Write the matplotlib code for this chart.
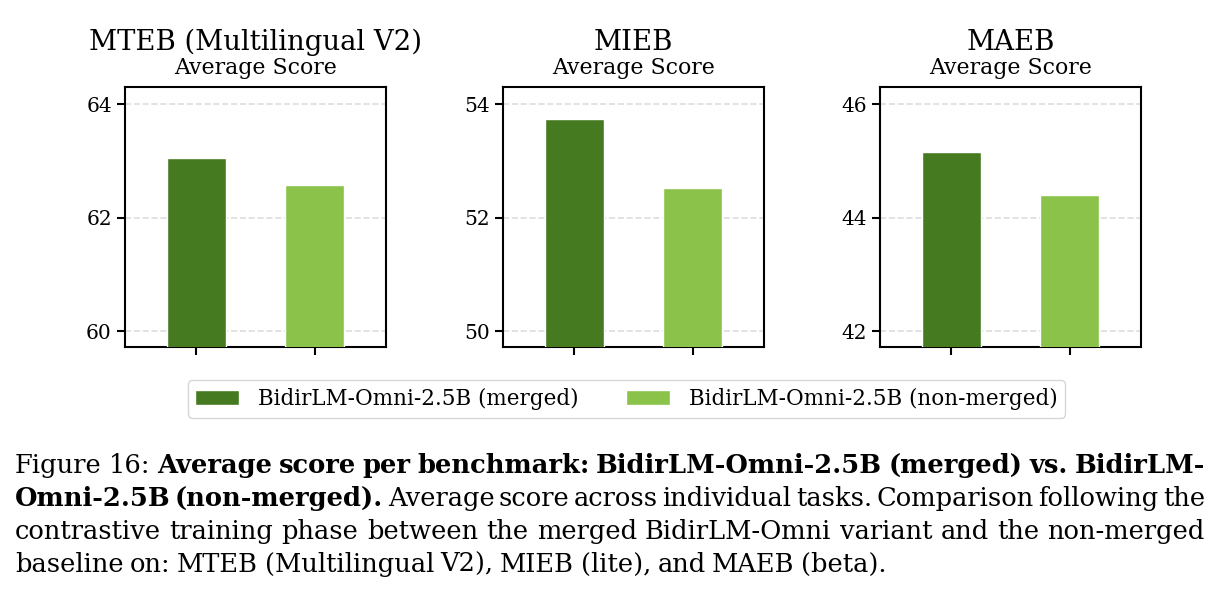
import matplotlib
matplotlib.use('Agg')
from matplotlib import pyplot as plt

benchmarks = ['MTEB (Multilingual V2)', 'MIEB', 'MAEB']
models = ['BidirLM-Omni-2.5B (merged)', 'BidirLM-Omni-2.5B (non-merged)']
merged = [63.05, 53.74, 45.15]
non_merged = [62.57, 52.52, 44.40]
yticks = [[60, 62, 64], [50, 52, 54], [42, 44, 46]]
colors = ['#467a20', '#8bc34a']

plt.rcParams['font.family'] = 'DejaVu Serif'

W, H = 1223, 599
fig = plt.figure(figsize=(W / 100, H / 100), dpi=100)
lefts = [125, 503, 880]
axes = []
for i, name in enumerate(benchmarks):
    ax = fig.add_axes([lefts[i] / W, 1 - 347 / H, 261 / W, 260 / H])
    vals = [merged[i], non_merged[i]]
    for j in range(2):
        ax.bar(j, vals[j], width=0.5, color=colors[j], edgecolor='white',
               linewidth=1, label=models[j], zorder=3)
    lo = yticks[i][0]
    ax.set_ylim(lo - 0.28, lo + 4.3)
    ax.set_xlim(-0.6, 1.6)
    ax.set_yticks(yticks[i])
    ax.set_xticks([0, 1])
    ax.set_xticklabels(['', ''])
    ax.tick_params(axis='both', labelsize=14.5, length=6, width=1.5)
    ax.grid(axis='y', linestyle='--', color='#dddddd', linewidth=1.2, zorder=0)
    for s in ax.spines.values():
        s.set_linewidth(1.5)
    ax.text(0.5, (347 - 68) / 260, 'Average Score', transform=ax.transAxes,
            ha='center', va='center', fontsize=15.8)
    ax.text(0.5, (347 - 42) / 260, name, transform=ax.transAxes,
            ha='center', va='center', fontsize=19.8)
    axes.append(ax)

handles, labels = axes[0].get_legend_handles_labels()
fig.legend(handles, labels, loc='center', bbox_to_anchor=(626.5 / W, 1 - 399 / H),
           ncol=2, fontsize=15.5, frameon=True, edgecolor='#cccccc',
           handlelength=2.05, handleheight=0.65, handletextpad=0.88,
           columnspacing=2.2, borderpad=0.35)

# caption, justified like the LaTeX source
cap = dict(family='DejaVu Serif', fontsize=18.5)
lines = [
    [('Figure', 'normal'), ('16:', 'normal'), ('Average', 'bold'), ('score', 'bold'),
     ('per', 'bold'), ('benchmark:', 'bold'), ('BidirLM-Omni-2.5B', 'bold'),
     ('(merged)', 'bold'), ('vs.', 'bold'), ('BidirLM-', 'bold')],
    [('Omni-2.5B', 'bold'), ('(non-merged).', 'bold')] +
    [(w, 'normal') for w in 'Average score across individual tasks. Comparison following the'.split()],
    [(w, 'normal') for w in 'contrastive training phase between the merged BidirLM-Omni variant and the non-merged'.split()],
    [(w, 'normal') for w in 'baseline on: MTEB (Multilingual V2), MIEB (lite), and MAEB (beta).'.split()],
]
baselines = [473, 506, 539, 572]
renderer = fig.canvas.get_renderer()
for k, (y, words) in enumerate(zip(baselines, lines)):
    texts = [fig.text(0, 1 - y / H, w, va='baseline', ha='left', fontweight=wt, **cap)
             for w, wt in words]
    widths = [t.get_window_extent(renderer).width for t in texts]
    if k < 3:
        gap = (1205 - 15 - sum(widths)) / (len(words) - 1)
    else:
        gap = 6.5
    x = 15
    for t, wd in zip(texts, widths):
        t.set_x(x / W)
        x += wd + gap

fig.savefig('out.png', dpi=100)
